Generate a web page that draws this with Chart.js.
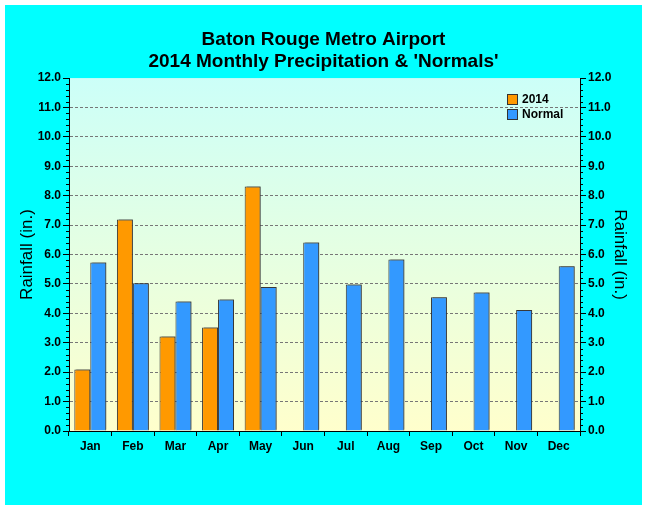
<!DOCTYPE html>
<html>
<head>
<meta charset="utf-8">
<script src="https://cdn.jsdelivr.net/npm/chart.js@4"></script>
<style>
  html, body { margin: 0; padding: 0; background: #ffffff; }
  #wrap { width: 647px; height: 508px; }
</style>
</head>
<body>
<div id="wrap"><canvas id="rainChart" width="647" height="508"></canvas></div>
<script>
// chart data
var months = ['Jan', 'Feb', 'Mar', 'Apr', 'May', 'Jun', 'Jul', 'Aug', 'Sep', 'Oct', 'Nov', 'Dec'];
var rain2014 = [2.09, 7.19, 3.21, 3.52, 8.31, null, null, null, null, null, null, null];
var rainNormal = [5.73, 5.02, 4.40, 4.47, 4.90, 6.41, 4.98, 5.83, 4.55, 4.71, 4.11, 5.60];
var seriesNames = ['2014', 'Normal'];
var titleLines = ['Baton Rouge Metro Airport', "2014 Monthly Precipitation & 'Normals'"];
var axisTitle = 'Rainfall (in.)';
var yMin = 0, yMax = 12;

var FONT = "'Liberation Sans', Arial, sans-serif";

// outer cyan panel + plot gradient
var backdrop = {
    id: 'backdrop',
    beforeDraw: function (chart) {
        var ctx = chart.ctx, a = chart.chartArea;
        ctx.save();
        ctx.fillStyle = '#ffffff';
        ctx.fillRect(0, 0, chart.width, chart.height);
        ctx.fillStyle = '#00ffff';
        ctx.fillRect(5, 5, 637, 500);
        var g = ctx.createLinearGradient(0, a.top, 0, a.bottom);
        g.addColorStop(0, '#ccfff8');
        g.addColorStop(1, '#ffffcc');
        ctx.fillStyle = g;
        ctx.fillRect(a.left, a.top, a.right - a.left, a.bottom - a.top);
        ctx.restore();
    }
};

// drop shadow on the bars
var barShadow = {
    id: 'barShadow',
    beforeDatasetsDraw: function (chart) {
        var ctx = chart.ctx;
        ctx.save();
        ctx.shadowColor = 'rgba(60,60,60,0.55)';
        ctx.shadowOffsetX = 2;
        ctx.shadowOffsetY = -1;
        ctx.shadowBlur = 0;
    },
    afterDatasetsDraw: function (chart) {
        chart.ctx.restore();
    }
};

// minor ticks on both value axes + legend inside the plot
var extras = {
    id: 'extras',
    afterDraw: function (chart) {
        var ctx = chart.ctx;
        ctx.save();
        ctx.strokeStyle = '#000000';
        ctx.lineWidth = 1;
        ['y', 'y2'].forEach(function (id) {
            var s = chart.scales[id];
            for (var v = yMin; v <= yMax + 0.001; v += 0.2) {
                if (Math.abs(v - Math.round(v)) < 0.01) continue;
                var py = Math.round(s.getPixelForValue(v)) + 0.5;
                ctx.beginPath();
                if (s.position === 'left') {
                    ctx.moveTo(s.right - 3, py); ctx.lineTo(s.right, py);
                } else {
                    ctx.moveTo(s.left, py); ctx.lineTo(s.left + 3, py);
                }
                ctx.stroke();
            }
        });

        // legend
        var lx = 507, ly = 94;
        ctx.font = 'bold 12px ' + FONT;
        ctx.textBaseline = 'middle';
        chart.data.datasets.forEach(function (ds, i) {
            var y = ly + i * 15;
            ctx.fillStyle = ds.backgroundColor;
            ctx.fillRect(lx, y, 10, 10);
            ctx.strokeStyle = '#333333';
            ctx.strokeRect(lx + 0.5, y + 0.5, 10, 10);
            ctx.fillStyle = '#000000';
            ctx.fillText(ds.label, lx + 15, y + 6);
        });
        ctx.restore();
    }
};

function valueAxis(pos, pad) {
    return {
        type: 'linear',
        position: pos,
        min: yMin,
        max: yMax,
        afterFit: function (scale) { scale.width = pos === 'left' ? 64 : 62; },
        ticks: {
            stepSize: 1,
            padding: 2,
            color: '#000000',
            font: { family: FONT, size: 12, weight: 'bold' },
            callback: function (v) { return Number(v).toFixed(1); }
        },
        grid: {
            drawOnChartArea: pos === 'left',
            color: function (c) { return (c.tick && (c.tick.value === yMin || c.tick.value === yMax)) ? 'rgba(0,0,0,0)' : '#777777'; },
            tickColor: '#000000',
            tickLength: 6
        },
        border: { display: true, color: '#000000', width: 1, dash: [3, 2] },
        title: {
            display: true,
            text: axisTitle,
            color: '#000000',
            font: { family: FONT, size: 17 },
            padding: { top: pad, bottom: 0 }
        }
    };
}

document.addEventListener('DOMContentLoaded', function () {
    var ctx = document.getElementById('rainChart').getContext('2d');
    new Chart(ctx, {
        type: 'bar',
        data: {
            labels: months,
            datasets: [{
                label: seriesNames[0],
                data: rain2014,
                backgroundColor: '#ff9900',
                borderColor: '#333333',
                borderWidth: 1,
                yAxisID: 'y'
            }, {
                label: seriesNames[1],
                data: rainNormal,
                backgroundColor: '#3399ff',
                borderColor: '#333333',
                borderWidth: 1,
                yAxisID: 'y'
            }]
        },
        plugins: [backdrop, barShadow, extras],
        options: {
            responsive: false,
            animation: false,
            devicePixelRatio: 1,
            layout: { padding: { left: 5, right: 5, top: 5, bottom: 3 } },
            datasets: { bar: { categoryPercentage: 0.75, barPercentage: 1.0 } },
            plugins: {
                legend: { display: false },
                tooltip: { enabled: false },
                title: {
                    display: true,
                    text: titleLines,
                    color: '#000000',
                    font: { family: FONT, size: 19, weight: 'bold', lineHeight: 1.16 },
                    padding: { top: 24, bottom: 5 }
                }
            },
            scales: {
                x: {
                    afterFit: function (scale) { scale.height = 74; },
                    ticks: {
                        padding: 3,
                        color: '#000000',
                        font: { family: FONT, size: 12, weight: 'bold' }
                    },
                    grid: {
                        offset: true,
                        drawOnChartArea: false,
                        tickColor: '#000000',
                        tickLength: 5
                    },
                    border: { display: true, color: '#000000', width: 1 }
                },
                y: valueAxis('left', 12),
                y2: valueAxis('right', 12)
            }
        }
    });
});
</script>
</body>
</html>
